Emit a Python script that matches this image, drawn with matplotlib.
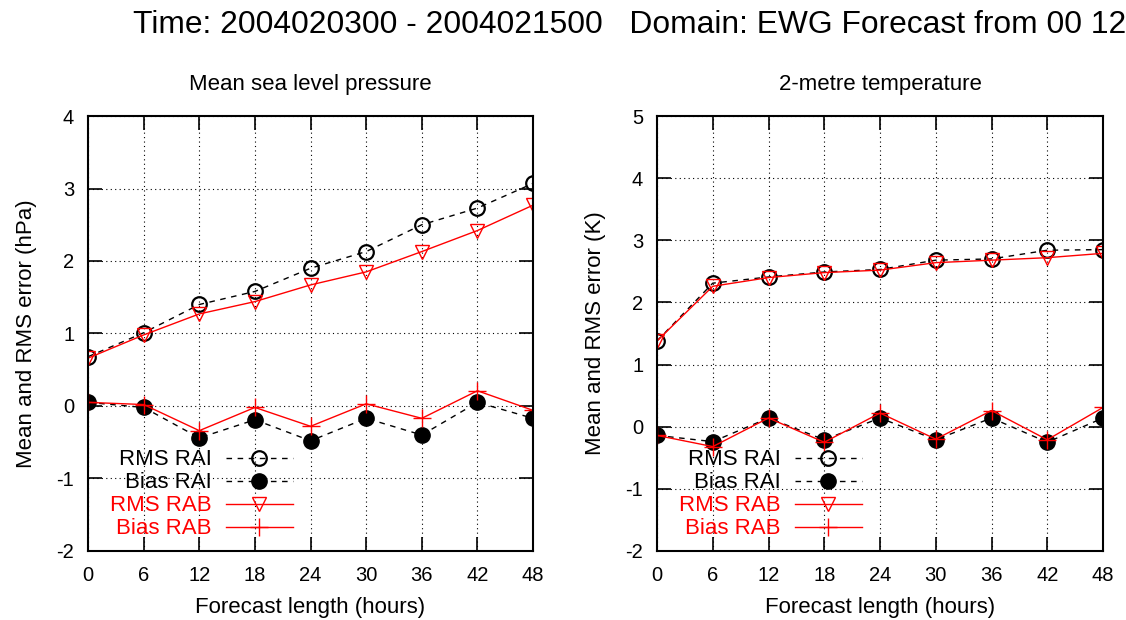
import matplotlib
matplotlib.use("Agg")
import matplotlib.pyplot as plt

plt.rcParams['font.family'] = ['Liberation Sans', 'DejaVu Sans']
plt.rcParams['axes.unicode_minus'] = False

hours = [0, 6, 12, 18, 24, 30, 36, 42, 48]

# Mean sea level pressure (hPa)
mslp_rms_rai = [0.68, 1.01, 1.40, 1.58, 1.90, 2.13, 2.50, 2.73, 3.07]
mslp_bias_rai = [0.05, -0.02, -0.44, -0.19, -0.48, -0.17, -0.40, 0.05, -0.17]
mslp_rms_rab = [0.66, 0.98, 1.27, 1.44, 1.67, 1.85, 2.13, 2.42, 2.77]
mslp_bias_rab = [0.05, 0.02, -0.34, -0.02, -0.28, 0.03, -0.17, 0.21, -0.06]

# 2-metre temperature (K)
t2m_rms_rai = [1.38, 2.31, 2.41, 2.49, 2.53, 2.68, 2.70, 2.84, 2.85]
t2m_bias_rai = [-0.14, -0.24, 0.14, -0.21, 0.14, -0.21, 0.14, -0.25, 0.14]
t2m_rms_rab = [1.38, 2.26, 2.40, 2.48, 2.52, 2.64, 2.68, 2.72, 2.79]
t2m_bias_rab = [-0.14, -0.32, 0.14, -0.25, 0.22, -0.20, 0.26, -0.21, 0.31]

labels = ['RMS RAI', 'Bias RAI', 'RMS RAB', 'Bias RAB']

fig = plt.figure(figsize=(11.26, 6.2), dpi=100)
ax1 = fig.add_axes([0.0782, 0.1113, 0.3952, 0.7016])
ax2 = fig.add_axes([0.5835, 0.1113, 0.3961, 0.7016])

fs = 16
tfs = 14.5


def draw(ax, rms_rai, bias_rai, rms_rab, bias_rab, title, ylabel, ylim):
    ax.plot(hours, rms_rai, color='black', ls=(0, (4, 4)), lw=1,
            marker='o', ms=10.5, mfc='none', mec='black', mew=1.6, label=labels[0])
    ax.plot(hours, bias_rai, color='black', ls=(0, (4, 4)), lw=1,
            marker='o', ms=11, mfc='black', mec='black', label=labels[1])
    ax.plot(hours, rms_rab, color='red', lw=1,
            marker='v', ms=10, mfc='none', mec='red', mew=1.0, label=labels[2])
    ax.plot(hours, bias_rab, color='red', lw=1,
            marker='+', ms=13, mec='red', mew=1.0, label=labels[3])
    ax.set_xlim(0, 48)
    ax.set_ylim(*ylim)
    ax.set_xticks(hours)
    ax.set_yticks(range(ylim[0], ylim[1] + 1))
    ax.grid(True, color='black', ls=(0, (1, 3)), lw=0.8)
    ax.tick_params(direction='in', length=10, width=1.2, top=True, right=True,
                   labelsize=tfs)
    ax.tick_params(axis='x', pad=11)
    ax.tick_params(axis='y', pad=10)
    for s in ax.spines.values():
        s.set_linewidth(1.5)
    ax.set_title(title, fontsize=fs, pad=18.5)
    ax.set_xlabel('Forecast length (hours)', fontsize=fs, labelpad=8.5)
    ax.set_ylabel(ylabel, fontsize=fs, labelpad=14)
    leg = ax.legend(loc='lower left', bbox_to_anchor=(0.020, -0.004), frameon=False,
                    markerfirst=False, fontsize=fs, handlelength=3.0,
                    handletextpad=0.63, labelspacing=0.09, borderaxespad=0.2)
    for t, c in zip(leg.get_texts(), ['black', 'black', 'red', 'red']):
        t.set_color(c)


draw(ax1, mslp_rms_rai, mslp_bias_rai, mslp_rms_rab, mslp_bias_rab,
     'Mean sea level pressure', 'Mean and RMS error (hPa)', (-2, 4))
draw(ax2, t2m_rms_rai, t2m_bias_rai, t2m_rms_rab, t2m_bias_rab,
     '2-metre temperature', 'Mean and RMS error (K)', (-2, 5))

fig.text(0.5595, 0.96, 'Time: 2004020300 - 2004021500   Domain: EWG Forecast from 00 12',
         ha='center', va='center', fontsize=22.9)

fig.savefig('out.png', dpi=100)
